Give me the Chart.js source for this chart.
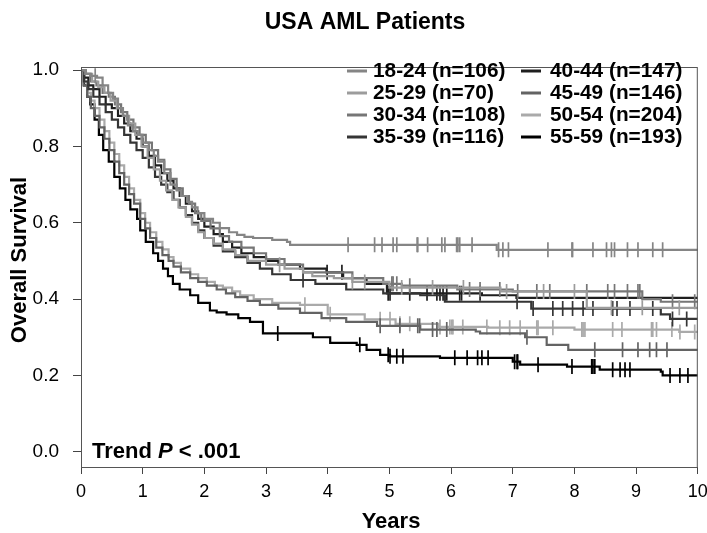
<!DOCTYPE html>
<html>
<head>
<script src="https://cdn.jsdelivr.net/npm/chart.js"></script>
<style>
  body { margin: 0; background: #fff; }
  #wrap { width: 707px; height: 533px; }
</style>
</head>
<body>
<div id="wrap"><canvas id="km" width="707" height="533"></canvas></div>
<script>
// Kaplan-Meier curves: event times (years) and survival
const t1824 = [0,0.08,0.16,0.26,0.35,0.44,0.52,0.6,0.68,0.76,0.84,0.92,1.0,1.1,1.18,1.25,1.35,1.45,1.55,1.62,1.72,1.8,1.89,2.0,2.14,2.25,2.4,2.53,2.65,2.79,3.1,3.34,3.39,6.74];
const s1824 = [1,0.99,0.985,0.98,0.96,0.94,0.925,0.90,0.88,0.855,0.84,0.83,0.81,0.79,0.775,0.76,0.73,0.70,0.685,0.67,0.655,0.64,0.625,0.61,0.60,0.586,0.575,0.568,0.563,0.56,0.555,0.55,0.542,0.529];
const c1824 = [0.23,4.33,4.76,4.88,5.06,5.12,5.45,5.46,5.62,5.85,5.9,6.09,6.11,6.14,6.34,6.77,6.84,6.93,7.57,7.96,7.97,8.3,8.52,8.6,8.65,8.86,9.03,9.27,9.43];

const t2529 = [0,0.08,0.18,0.28,0.38,0.48,0.58,0.68,0.78,0.88,0.98,1.08,1.18,1.28,1.38,1.48,1.58,1.7,1.8,1.9,2.0,2.15,2.3,2.5,2.7,3.0,3.3,3.6,3.75,4.1,4.4,5.0,6.8,8.2];
const s2529 = [1,0.99,0.97,0.955,0.94,0.92,0.90,0.88,0.86,0.83,0.80,0.77,0.74,0.71,0.685,0.66,0.64,0.615,0.595,0.575,0.56,0.545,0.53,0.515,0.50,0.49,0.48,0.47,0.46,0.455,0.445,0.43,0.42,0.377];
const c2529 = [3.22,4.4,4.6,5.2,5.7,6.2,6.9,7.5,8.0,8.6,9.1,9.7];

const t3034 = [0,0.06,0.15,0.25,0.35,0.45,0.55,0.65,0.75,0.85,0.95,1.05,1.15,1.25,1.35,1.45,1.55,1.65,1.75,1.85,1.95,2.1,2.25,2.4,2.6,2.8,3.0,3.3,3.6,4.4,4.9,5.2,6.1,7.0,9.1,9.4];
const s3034 = [1,0.99,0.97,0.96,0.94,0.93,0.91,0.89,0.87,0.85,0.83,0.81,0.79,0.765,0.74,0.715,0.69,0.67,0.65,0.625,0.605,0.585,0.565,0.55,0.535,0.52,0.505,0.49,0.47,0.455,0.44,0.435,0.425,0.42,0.40,0.393];
const c3034 = [5.04,5.06,5.12,5.33,6.3,6.47,6.79,7.08,7.39,7.6,8.2,8.54,8.65,8.86,9.03,9.06,9.59,9.95];

const t3539 = [0,0.05,0.12,0.2,0.3,0.4,0.5,0.6,0.7,0.8,0.9,1.0,1.1,1.2,1.3,1.4,1.5,1.6,1.7,1.8,1.9,2.0,2.15,2.3,2.5,2.7,2.9,3.1,3.4,3.8,4.3,4.9,5.5,5.9,7.3,9.4,9.55];
const s3539 = [1,0.97,0.95,0.93,0.91,0.89,0.87,0.85,0.83,0.81,0.79,0.77,0.745,0.72,0.70,0.68,0.66,0.64,0.62,0.60,0.58,0.56,0.54,0.525,0.51,0.495,0.48,0.465,0.45,0.44,0.425,0.415,0.41,0.393,0.375,0.36,0.348];
const c3539 = [3.6,7.07,7.33,7.65,7.81,7.97,8.14,8.3,8.62,8.69,8.9,9.27,9.59,9.82];

const t4044 = [0,0.05,0.12,0.2,0.3,0.4,0.5,0.6,0.7,0.8,0.9,1.0,1.1,1.2,1.3,1.4,1.5,1.6,1.7,1.8,1.9,2.0,2.15,2.3,2.45,2.6,2.8,3.0,3.2,3.55,3.98,4.25,4.63,4.96,6.5,7.06];
const s4044 = [1,0.98,0.96,0.95,0.93,0.91,0.90,0.88,0.86,0.84,0.82,0.80,0.775,0.75,0.73,0.71,0.69,0.67,0.65,0.63,0.61,0.59,0.57,0.55,0.535,0.52,0.51,0.50,0.49,0.48,0.47,0.455,0.44,0.415,0.41,0.403];
const c4044 = [3.99,4.23,4.98,5.01,5.33,5.61,5.77,5.82,5.87,5.93,6.14,6.17,6.47];

const t4549 = [0,0.04,0.1,0.16,0.22,0.3,0.38,0.46,0.54,0.62,0.7,0.78,0.86,0.96,1.04,1.12,1.22,1.32,1.42,1.5,1.62,1.77,1.9,2.04,2.2,2.35,2.5,2.7,2.9,3.2,3.55,3.9,4.3,4.8,5.5,6.4,6.47,7.2,7.55,7.9];
const s4549 = [1,0.96,0.93,0.90,0.88,0.85,0.82,0.79,0.76,0.73,0.70,0.675,0.65,0.61,0.585,0.56,0.535,0.515,0.50,0.485,0.47,0.455,0.445,0.435,0.425,0.415,0.405,0.395,0.385,0.375,0.364,0.35,0.34,0.33,0.32,0.315,0.31,0.30,0.28,0.267];
const c4549 = [4.85,5.17,5.46,5.49,5.7,5.77,5.93,7.23,8.33,8.78,9.03,9.22,9.33,9.5];

const t5054 = [0,0.04,0.1,0.16,0.22,0.3,0.38,0.46,0.54,0.62,0.7,0.78,0.86,0.96,1.04,1.12,1.22,1.32,1.42,1.5,1.62,1.77,1.9,2.04,2.17,2.3,2.45,2.58,2.8,3.1,3.55,4.0,4.6,5.1,5.8,6.6,8.0,9.7];
const s5054 = [1,0.97,0.94,0.92,0.90,0.87,0.84,0.81,0.78,0.75,0.72,0.69,0.66,0.625,0.60,0.575,0.55,0.53,0.51,0.495,0.48,0.465,0.455,0.445,0.435,0.43,0.42,0.41,0.40,0.39,0.385,0.36,0.347,0.335,0.327,0.325,0.32,0.314];
const c5054 = [3.63,4.04,4.85,5.01,5.17,5.33,5.82,5.98,6.01,6.03,6.19,6.58,6.79,6.95,7.12,7.39,7.41,7.65,8.12,8.14,8.17,8.62,8.77,9.25,9.27,9.33,9.58,9.71,9.95];

const t5559 = [0,0.05,0.1,0.15,0.22,0.29,0.36,0.45,0.54,0.63,0.72,0.8,0.91,0.96,1.05,1.17,1.25,1.33,1.41,1.49,1.6,1.77,1.9,2.09,2.2,2.36,2.55,2.74,2.95,3.76,4.04,4.47,4.63,4.85,5.01,5.82,7.0,7.12,7.88,8.41,9.4,9.43];
const s5559 = [1,0.96,0.93,0.91,0.87,0.83,0.79,0.76,0.72,0.69,0.66,0.635,0.61,0.58,0.55,0.52,0.50,0.48,0.46,0.44,0.425,0.41,0.39,0.37,0.365,0.36,0.35,0.34,0.31,0.30,0.285,0.28,0.267,0.254,0.25,0.246,0.236,0.228,0.223,0.215,0.21,0.20];
const c5559 = [3.19,4.52,4.98,5.01,5.12,5.22,6.06,6.26,6.43,6.5,6.6,7.03,7.07,7.08,7.41,7.96,8.28,8.3,8.33,8.62,8.74,8.82,8.9,9.55,9.71,9.84];

const groups = ['18-24 (n=106)','25-29 (n=70)','30-34 (n=108)','35-39 (n=116)','40-44 (n=147)','45-49 (n=146)','50-54 (n=204)','55-59 (n=193)'];
const greys  = ['#858585','#9c9c9c','#767676','#353535','#1f1f1f','#636363','#aaaaaa','#000000'];
const xTicks = [0,1,2,3,4,5,6,7,8,9,10];
const yTicks = [0,0.2,0.4,0.6,0.8,1.0];
const followUp = 10;

const curves = [
  [t1824, s1824, c1824], [t2529, s2529, c2529], [t3034, s3034, c3034], [t3539, s3539, c3539],
  [t4044, s4044, c4044], [t4549, s4549, c4549], [t5054, s5054, c5054], [t5559, s5559, c5559]
];

function survAt(ts, ss, t) {
  let v = ss[0];
  for (let i = 0; i < ts.length; i++) if (ts[i] <= t) v = ss[i];
  return v;
}

const FONT = '"Liberation Sans", Arial, sans-serif';
const datasets = [];
curves.forEach(([ts, ss, cs], i) => {
  const pts = ts.map((t, k) => ({ x: t, y: ss[k] }));
  pts.push({ x: followUp, y: ss[ss.length - 1] });
  datasets.push({
    label: groups[i], data: pts, stepped: true, borderColor: greys[i],
    borderWidth: 2.2, pointRadius: 0, fill: false
  });
  datasets.push({
    label: groups[i] + ' censored', data: cs.map(t => ({ x: t, y: survAt(ts, ss, t) })),
    showLine: false, pointStyle: 'line', rotation: 90, pointRadius: 7.5,
    borderColor: greys[i], borderWidth: 1.7
  });
});

const extras = {
  id: 'extras',
  afterDraw(chart) {
    const { ctx, chartArea: a } = chart;
    ctx.save();
    ctx.strokeStyle = '#555';
    ctx.lineWidth = 1;
    ctx.strokeRect(a.left + 0.5, a.top + 0.5, a.right - a.left - 1, a.bottom - a.top);

    ctx.fillStyle = '#000';
    ctx.textBaseline = 'middle';
    ctx.textAlign = 'center';
    ctx.font = 'bold 23px ' + FONT;
    ctx.fillText('USA AML Patients', 365, 23);
    ctx.font = 'bold 22px ' + FONT;
    ctx.fillText('Years', 391, 522);
    ctx.save();
    ctx.translate(20, 260);
    ctx.rotate(-Math.PI / 2);
    ctx.font = 'bold 22px ' + FONT;
    ctx.fillText('Overall Survival', 0, 0);
    ctx.restore();

    // trend p-value
    ctx.textAlign = 'left';
    let x = 92;
    const yb = 452;
    ctx.font = 'bold 22px ' + FONT;
    ctx.fillText('Trend ', x, yb); x += ctx.measureText('Trend ').width;
    ctx.font = 'italic bold 22px ' + FONT;
    ctx.fillText('P', x, yb); x += ctx.measureText('P').width;
    ctx.font = 'bold 22px ' + FONT;
    ctx.fillText(' < .001', x, yb);

    // legend, two columns of four
    ctx.font = 'bold 20.8px ' + FONT;
    groups.forEach((g, i) => {
      const col = Math.floor(i / 4), row = i % 4;
      const sx = col ? 521 : 347, tx = col ? 550 : 373, cy = 71 + row * 22;
      ctx.strokeStyle = greys[i];
      ctx.lineWidth = 3;
      ctx.beginPath(); ctx.moveTo(sx, cy); ctx.lineTo(sx + 20, cy); ctx.stroke();
      ctx.fillText(g, tx, cy);
    });
    ctx.restore();
  }
};

new Chart(document.getElementById('km'), {
  type: 'line',
  data: { datasets },
  options: {
    responsive: false,
    animation: false,
    events: [],
    layout: { padding: { top: 67, right: 0, left: 0, bottom: 0 } },
    plugins: { legend: { display: false }, tooltip: { enabled: false } },
    scales: {
      x: {
        type: 'linear', min: 0, max: followUp,
        afterBuildTicks: s => { s.ticks = xTicks.map(v => ({ value: v })); },
        afterFit: s => { s.height = 66; s.paddingLeft = 0; s.paddingRight = 9; },
        grid: { drawOnChartArea: false, tickLength: 7, color: '#444' },
        border: { color: '#444' },
        ticks: { color: '#000', padding: 7, font: { family: FONT, size: 18 } }
      },
      y: {
        type: 'linear', min: -0.04, max: 1.008,
        afterBuildTicks: s => { s.ticks = yTicks.map(v => ({ value: v })); },
        afterFit: s => { s.width = 81; s.paddingTop = 0; s.paddingBottom = 0; },
        grid: { drawOnChartArea: false, tickLength: 8, color: '#444' },
        border: { color: '#444' },
        ticks: { color: '#000', padding: 14, font: { family: FONT, size: 19 }, callback: v => v.toFixed(1) }
      }
    }
  },
  plugins: [extras]
});
</script>
</body>
</html>
